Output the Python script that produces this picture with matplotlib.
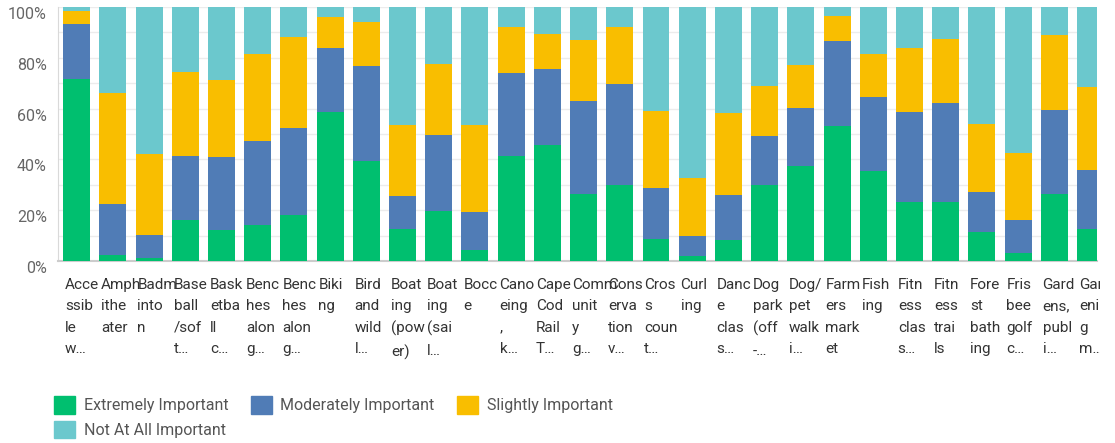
import numpy as np
import matplotlib.pyplot as plt
from matplotlib.patches import Patch
from matplotlib.transforms import Bbox, TransformedBbox, ScaledTranslation

plt.rcParams['font.family'] = ['Roboto', 'DejaVu Sans']

# wrapped labels as shown under each bar
labels = [
    "Acce\nssib\nle\nw…", "Amph\nithe\nater", "Badm\ninto\nn", "Base\nball\n/sof\nt…",
    "Bask\netba\nll\nc…", "Benc\nhes\nalon\ng…", "Benc\nhes\nalon\ng…", "Biki\nng",
    "Bird\nand\nwild\nl…", "Boat\ning\n(pow\ner)", "Boat\ning\n(sai\nl…", "Bocc\ne",
    "Cano\neing\n,\nk…", "Cape\nCod\nRail\nT…", "Comm\nunit\ny\ng…", "Cons\nerva\ntion\nv…",
    "Cros\ns\ncoun\nt…", "Curl\ning", "Danc\ne\nclas\ns…", "Dog\npark\n(off\n-…",
    "Dog/\npet\nwalk\ni…", "Farm\ners\nmark\net", "Fish\ning", "Fitn\ness\nclas\ns…",
    "Fitn\ness\ntrai\nls", "Fore\nst\nbath\ning", "Fris\nbee\ngolf\nc…", "Gard\nens,\npubl\ni…",
    "Gard\nenin\ng\nm…",
]

extremely = [71.6, 2.4, 1.3, 16.3, 12.3, 14.2, 18.1, 58.7, 39.3, 12.6, 19.7, 4.5, 41.4, 45.6,
             26.5, 29.9, 8.7, 2.1, 8.4, 29.9, 37.5, 53.2, 35.4, 23.3, 23.3, 11.5, 3.1, 26.5, 12.6]
moderately = [21.6, 20.0, 8.9, 25.0, 28.6, 33.0, 34.2, 25.0, 37.4, 13.0, 29.8, 14.8, 32.5, 29.9,
              36.4, 39.8, 20.0, 7.7, 17.5, 19.2, 22.7, 33.3, 29.1, 35.3, 38.8, 15.6, 13.0, 32.9, 23.2]
slightly = [5.1, 43.7, 32.0, 33.1, 30.4, 34.3, 35.8, 12.2, 17.4, 27.9, 28.1, 34.2, 18.1, 13.9,
            24.1, 22.3, 30.3, 23.0, 32.3, 19.8, 16.9, 10.0, 17.0, 25.3, 25.2, 26.9, 26.4, 29.5, 32.6]
not_at_all = [1.7, 33.9, 57.8, 25.6, 28.7, 18.5, 11.9, 4.1, 5.9, 46.5, 22.4, 46.5, 8.0, 10.6,
              13.0, 8.0, 41.0, 67.2, 41.8, 31.1, 22.9, 3.5, 18.5, 16.1, 12.7, 46.0, 57.5, 11.1, 31.6]

series = ["Extremely Important", "Moderately Important", "Slightly Important", "Not At All Important"]
colors = ["#00BF6F", "#507CB6", "#F9BE00", "#6BC8CD"]

fig = plt.figure(figsize=(11.15, 4.43), dpi=100)
ax = fig.add_axes([58 / 1115, 182 / 443, 1039 / 1115, 254 / 443])

x = np.arange(len(labels))
w = 0.745
bottom = np.zeros(len(labels))
for vals, col in zip([extremely, moderately, slightly, not_at_all], colors):
    vals = np.array(vals)
    ax.bar(x, vals, w, bottom=bottom, color=col, zorder=3)
    bottom += vals

ax.set_xlim(-0.517, 28.18)
ax.set_ylim(0, 100)
ax.set_yticks(range(0, 101, 20))
ax.set_yticklabels([f"{v}%" for v in range(0, 101, 20)])
ax.set_yticks(range(0, 101, 10), minor=True)
ax.grid(axis='y', which='both', color='#ececec', lw=1, zorder=0)
ax.tick_params(axis='y', which='both', length=0, pad=8, labelsize=11.5, labelcolor='#666666')
# labels in the reference sit a few px below their gridline
shift = ScaledTranslation(0, -6 / 100, fig.dpi_scale_trans)
for lbl in ax.get_yticklabels():
    lbl.set_transform(lbl.get_transform() + shift)
ax.set_xticks([])
for s in ['top', 'right']:
    ax.spines[s].set_visible(False)
ax.spines['left'].set_color('#d9d9d9')
ax.spines['bottom'].set_color('#cccccc')
ax.spines['bottom'].set_linewidth(1.5)

clip = TransformedBbox(Bbox([[0, 0], [1100 / 1115, 1]]), fig.transFigure)
for i, lab in enumerate(labels):
    t = ax.text(i - w / 2 + 0.05, -0.068, lab, transform=ax.get_xaxis_transform(),
                ha='left', va='top', fontsize=11, color='#333333', linespacing=1.65,
                clip_on=True)
    t.set_clip_box(clip)

handles = [Patch(facecolor=c, edgecolor=c) for c in colors]
order = [0, 3, 1, 2]
fig.legend([handles[k] for k in order], [series[k] for k in order], ncol=3,
           loc='upper left', bbox_to_anchor=(48 / 1115, 1 - 390 / 443), frameon=False,
           fontsize=11.5, labelcolor='#555555', handlelength=1.3, handleheight=1.3,
           handletextpad=0.55, columnspacing=1.4, labelspacing=0.45, borderaxespad=0)

fig.savefig("out.png", dpi=100)
